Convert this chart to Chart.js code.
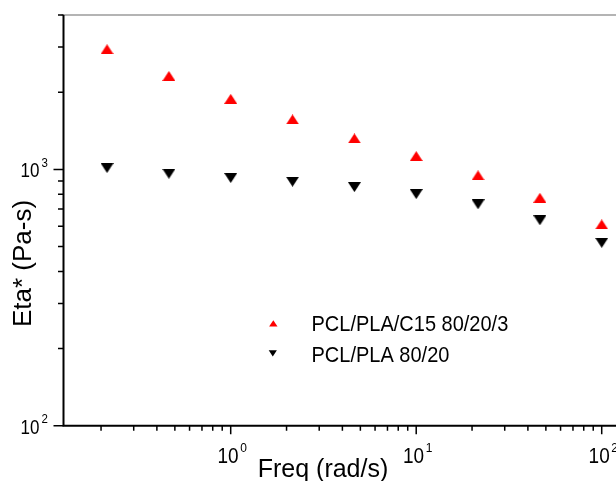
<!DOCTYPE html>
<html>
<head>
<meta charset="utf-8">
<script src="https://cdn.jsdelivr.net/npm/chart.js"></script>
<style>
  html, body { margin: 0; padding: 0; background: #ffffff; overflow: hidden; }
  #wrap { width: 616px; height: 481px; }
</style>
</head>
<body>
<div id="wrap"><canvas id="c" width="616" height="481"></canvas></div>
<script>
// ---- data ----
const freq = [0.2154, 0.4642, 1, 2.154, 4.642, 10, 21.54, 46.42, 100];
const etaC15 = [2942, 2313, 1884, 1566, 1321, 1127, 948, 775, 610];
const etaNeat = [1012, 961, 925, 895, 853, 801, 731, 633, 517];
const seriesNames = ['PCL/PLA/C15 80/20/3', 'PCL/PLA 80/20'];
const xTickValues = [1, 10, 100];
const xTickExponents = ['0', '1', '2'];
const yTickValues = [100, 1000];
const yTickExponents = ['2', '3'];
const xTitle = 'Freq (rad/s)';
const yTitle = 'Eta* (Pa-s)';

const FONT = '"Liberation Sans", Arial, Helvetica, sans-serif';

function triImage(w, h, color, up) {
  const c = document.createElement('canvas');
  c.width = w; c.height = h;
  const g = c.getContext('2d');
  g.fillStyle = color;
  g.beginPath();
  if (up) { g.moveTo(w / 2, 0); g.lineTo(w, h); g.lineTo(0, h); }
  else { g.moveTo(0, 0); g.lineTo(w, 0); g.lineTo(w / 2, h); }
  g.closePath();
  g.fill();
  return c;
}
const upRed = triImage(13, 10, '#ff0000', true);
const downBlack = triImage(13, 10, '#000000', false);

function txt(ctx, s, x, y, size, align, sy, rot) {
  ctx.save();
  ctx.translate(x, y);
  if (rot) ctx.rotate(rot);
  ctx.scale(1, sy);
  ctx.font = size + 'px ' + FONT;
  ctx.textAlign = align;
  ctx.textBaseline = 'alphabetic';
  ctx.fillStyle = '#000';
  ctx.fillText(s, 0, 0);
  ctx.restore();
}
function tw(ctx, s, size) {
  ctx.save(); ctx.font = size + 'px ' + FONT;
  const w = ctx.measureText(s).width; ctx.restore(); return w;
}

function minorValues(min, max) {
  const out = [];
  const e0 = Math.floor(Math.log10(min)), e1 = Math.ceil(Math.log10(max));
  for (let e = e0; e <= e1; e++) {
    for (let m = 1; m <= 9; m++) {
      const v = m * Math.pow(10, e);
      if (v >= min * 0.9999 && v <= max * 1.0001) out.push({ v, major: m === 1 });
    }
  }
  return out;
}

const decor = {
  id: 'decor',
  afterDraw(chart) {
    const ctx = chart.ctx;
    const xs = chart.scales.x, ys = chart.scales.y;
    const a = chart.chartArea;
    ctx.save();
    // top frame line (grey)
    ctx.strokeStyle = '#b4b4b4';
    ctx.lineWidth = 2;
    ctx.beginPath(); ctx.moveTo(a.left - 2, a.top); ctx.lineTo(a.right + 2, a.top); ctx.stroke();

    // axis lines
    ctx.strokeStyle = '#000';
    ctx.lineWidth = 2;
    ctx.beginPath();
    ctx.moveTo(a.left, a.top); ctx.lineTo(a.left, a.bottom + 1);
    ctx.moveTo(a.left - 1, a.bottom); ctx.lineTo(a.right + 2, a.bottom);
    ctx.stroke();

    // ticks
    ctx.lineWidth = 1.5;
    ctx.beginPath();
    minorValues(xs.min, xs.max).forEach(t => {
      const px = xs.getPixelForValue(t.v);
      ctx.moveTo(px, a.bottom); ctx.lineTo(px, a.bottom + (t.major ? 8.5 : 5));
    });
    minorValues(ys.min, ys.max).forEach(t => {
      const py = ys.getPixelForValue(t.v);
      ctx.moveTo(a.left, py); ctx.lineTo(a.left - (t.major ? 10 : 5.5), py);
    });
    ctx.stroke();

    // x tick labels
    xTickValues.forEach((v, i) => {
      const px = xs.getPixelForValue(v);
      const wb = tw(ctx, '10', 19), we = tw(ctx, xTickExponents[i], 12);
      const total = wb + 1.5 + we;
      const sx = px + 1.5 - total / 2;
      txt(ctx, '10', sx, 463, 19, 'left', 1.17);
      txt(ctx, xTickExponents[i], sx + wb + 1.5, 452, 12, 'left', 1.1);
    });
    // y tick labels
    yTickValues.forEach((v, i) => {
      const py = ys.getPixelForValue(v);
      txt(ctx, '10', 39.5, py + 8, 17, 'right', 1.22);
      txt(ctx, yTickExponents[i], 41.5, py - 2.6, 11.5, 'left', 1.1);
    });

    // axis titles
    txt(ctx, xTitle, 323, 477, 25, 'center', 1.05);
    txt(ctx, yTitle, 31, 263.5, 26, 'center', 1.0, -Math.PI / 2);

    // legend
    ctx.fillStyle = '#ff0000';
    ctx.beginPath(); ctx.moveTo(273.3, 320.3); ctx.lineTo(277.5, 326.5); ctx.lineTo(269.1, 326.5); ctx.closePath(); ctx.fill();
    ctx.fillStyle = '#000';
    ctx.beginPath(); ctx.moveTo(268.7, 350.3); ctx.lineTo(276.9, 350.3); ctx.lineTo(272.8, 356.5); ctx.closePath(); ctx.fill();
    txt(ctx, seriesNames[0], 311.5, 331, 20, 'left', 1.1);
    txt(ctx, seriesNames[1], 311.5, 361.7, 20, 'left', 1.1);
    ctx.restore();
  }
};

const pts = (ys) => freq.map((x, i) => ({ x, y: ys[i] }));

new Chart(document.getElementById('c'), {
  type: 'scatter',
  data: {
    datasets: [
      { label: seriesNames[0], data: pts(etaC15), pointStyle: upRed, pointRadius: 6, showLine: false },
      { label: seriesNames[1], data: pts(etaNeat), pointStyle: downBlack, pointRadius: 6, showLine: false }
    ]
  },
  options: {
    responsive: false,
    devicePixelRatio: 1,
    animation: false,
    events: [],
    layout: { autoPadding: false, padding: { top: 15, left: 0, right: 0, bottom: 0 } },
    plugins: { legend: { display: false }, tooltip: { enabled: false } },
    scales: {
      x: {
        type: 'logarithmic', min: 0.1255, max: 119.4,
        grid: { display: false }, border: { display: false },
        ticks: { display: false },
        afterFit: (s) => { s.height = 55.2; }
      },
      y: {
        type: 'logarithmic', min: 100, max: 4000,
        grid: { display: false }, border: { display: false },
        ticks: { display: false },
        afterFit: (s) => { s.width = 63.5; }
      }
    }
  },
  plugins: [decor]
});
</script>
</body>
</html>
